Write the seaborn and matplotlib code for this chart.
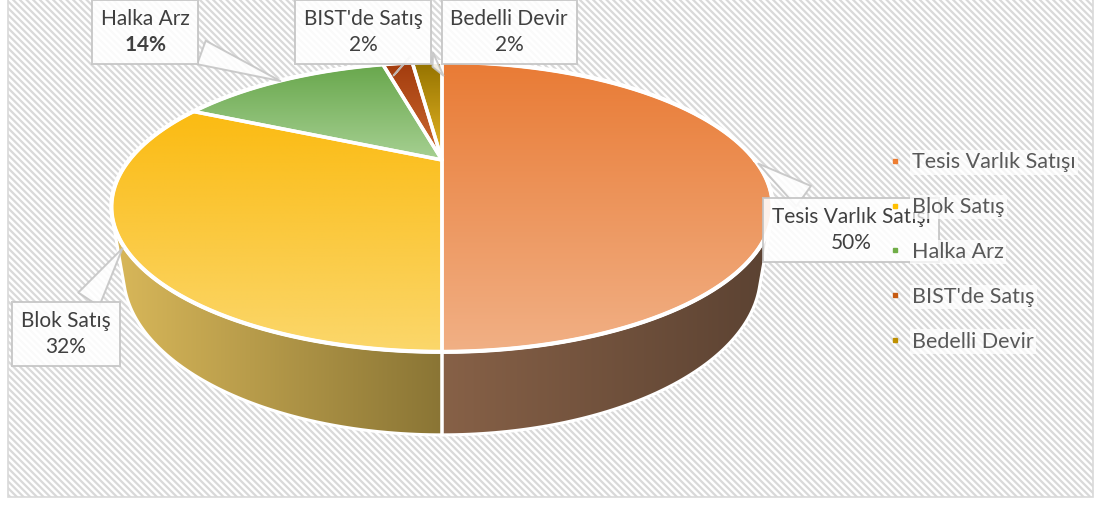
import numpy as np
import matplotlib
matplotlib.use("Agg")
import matplotlib.pyplot as plt
import seaborn as sns
from matplotlib.patches import Rectangle, Polygon
from matplotlib.lines import Line2D
from matplotlib.colors import LinearSegmentedColormap

# ---------------- data ----------------
categories = ["Tesis Varlık Satışı", "Blok Satış", "Halka Arz", "BIST'de Satış", "Bedelli Devir"]
values = [50, 32, 14, 2, 2]
legend_colors = ["#ed7d31", "#ffc000", "#70ad47", "#c55a11", "#bf9000"]
top_grad = [("#e97b35", "#f1b085"), ("#fbbb12", "#fbd76b"), ("#68a74c", "#a6d092"),
            ("#a33c0e", "#cd6a30"), ("#957300", "#e8b826")]
side_grad = [("#876147", "#5b4232"), ("#d9b85a", "#8a7535"), ("#6a8f50", "#4d6b3a"),
             ("#8a3a16", "#6a2d10"), ("#8a7020", "#6a5518")]

sns.set_theme(style="white")
plt.rcParams["font.family"] = ["Lato", "DejaVu Sans"]
plt.rcParams["mathtext.fontset"] = "custom"
plt.rcParams["mathtext.bf"] = "Lato:bold"
plt.rcParams["mathtext.rm"] = "Lato"
plt.rcParams["hatch.color"] = "#e5e5e5"
plt.rcParams["hatch.linewidth"] = 1.6

W, H = 1100, 511
# perspective camera of the 3-D pie (screen pixels)
CX, CY = 442, 160
F, Z0 = 879.0, 2.81
ALPHA = np.arcsin(0.4147)
THICK = 0.230

fig = plt.figure(figsize=(11, 5.11), dpi=100)
fig.patch.set_facecolor("white")
ax = fig.add_axes([0, 0, 1, 1])
ax.set_xlim(0, W)
ax.set_ylim(0, H)


def proj(u, v, h=0.0):
    """3-D disk point (u, v) at height h -> data coords (y up)."""
    yp = h * np.cos(ALPHA) + v * np.sin(ALPHA)
    zp = -h * np.sin(ALPHA) + v * np.cos(ALPHA)
    x = CX + F * u / (Z0 + zp)
    py = CY - F * yp / (Z0 + zp)
    return x, H - py


def px(x, y):
    return (x, H - y)


# hatched chart area
x0, y0 = px(8, 497)
ax.add_patch(Rectangle((x0, y0), 1093 - 8, 497 + 5, facecolor="white", edgecolor="#d9d9d9",
                       lw=1.2, hatch="\\" * 5, zorder=0))

# slice angles (start at 12 o'clock, clockwise)
fr = np.array(values, dtype=float) / sum(values)
ends = 90 - 360 * np.cumsum(fr)
starts = np.concatenate([[90], ends[:-1]])

# sides (front-facing part)
for a1, a2, sg in zip(starts, ends, side_grad):
    th = np.radians(np.linspace(a2, a1, 400))
    facing = (-Z0 * np.cos(ALPHA)) * np.sin(th) - 1 > 0
    if facing.sum() < 2:
        continue
    th = th[facing]
    tx, ty = proj(np.cos(th), np.sin(th), 0.0)
    bx, by = proj(np.cos(th), np.sin(th), -THICK)
    pts = np.vstack([np.column_stack([tx, ty]), np.column_stack([bx[::-1], by[::-1]])])
    poly = Polygon(pts, closed=True, facecolor="none", edgecolor="white", lw=2.2, zorder=2)
    ax.add_patch(poly)
    cmap = LinearSegmentedColormap.from_list("s", list(sg))
    grad = np.linspace(0, 1, 256).reshape(1, -1)
    im = ax.imshow(grad, cmap=cmap, extent=(pts[:, 0].min(), pts[:, 0].max(),
                                           pts[:, 1].min(), pts[:, 1].max()),
                   aspect="auto", zorder=1.5, interpolation="bilinear")
    im.set_clip_path(poly)

# top slices
for a1, a2, tg in zip(starts, ends, top_grad):
    th = np.radians(np.linspace(a1, a2, 300))
    ex, ey = proj(np.cos(th), np.sin(th), 0.0)
    cx0, cy0 = proj(0.0, 0.0, 0.0)
    pts = np.vstack([[cx0, cy0], np.column_stack([ex, ey])])
    poly = Polygon(pts, closed=True, facecolor="none", edgecolor="white", lw=2.5,
                   joinstyle="round", zorder=3)
    ax.add_patch(poly)
    cmap = LinearSegmentedColormap.from_list("t", [tg[1], tg[0]])
    grad = np.linspace(0, 1, 256).reshape(-1, 1)
    im = ax.imshow(grad, cmap=cmap, extent=(pts[:, 0].min(), pts[:, 0].max(),
                                           pts[:, 1].min(), pts[:, 1].max()),
                   origin="lower", aspect="auto", zorder=2.5, interpolation="bilinear")
    im.set_clip_path(poly)

# white rim round the top
th = np.radians(np.linspace(0, 360, 720))
rx, ry = proj(np.cos(th), np.sin(th), 0.0)
ax.plot(rx, ry, color="white", lw=3, zorder=3.2, solid_capstyle="round")

# callout labels
pct = [f"{round(v / sum(values) * 100)}%" for v in values]
label_pos = [(851, 230), (66, 334), (145, 32), (363, 32), (509, 32)]
tips = [(756, 162), (124, 246), (283, 82), (404, 68), (430, 68)]
for i, (name, p) in enumerate(zip(categories, pct)):
    txt = f"{name}\n" + (r"$\mathbf{" + p.replace("%", r"\%") + "}$" if i == 2 else p)
    ax.annotate(txt, xy=px(*tips[i]), xytext=px(*label_pos[i]), ha="center", va="center",
                fontsize=15, color="#404040", linespacing=1.35, zorder=6,
                bbox=dict(boxstyle="square,pad=0.42", fc="white", ec="#c4c4c4", lw=1.4, alpha=0.88),
                arrowprops=dict(arrowstyle="wedge,tail_width=1.2,shrink_factor=0.5", fc="white",
                                ec="#c4c4c4", lw=1.4, alpha=0.88))

# legend
handles = [Line2D([], [], marker="s", ls="", color=c, markersize=3.2) for c in legend_colors]
leg = ax.legend(handles, categories, loc="center left", bbox_to_anchor=(879 / W, 1 - 252 / H),
                bbox_transform=fig.transFigure, frameon=False, fontsize=15.5,
                labelspacing=1.15, handlelength=0.5, handletextpad=0.55, borderpad=0)
for t in leg.get_texts():
    t.set_color("#595959")
    t.set_bbox(dict(facecolor="white", edgecolor="none", alpha=0.72, pad=1.5))
leg.set_zorder(7)

ax.set_xlim(0, W)
ax.set_ylim(0, H)
ax.axis("off")

fig.savefig("out.png", dpi=100, facecolor="white")
